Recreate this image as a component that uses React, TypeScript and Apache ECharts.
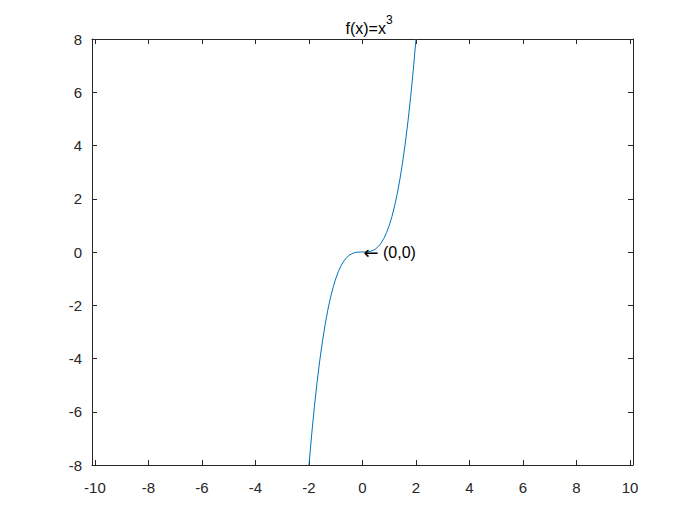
import React, { useEffect, useRef } from "react";
import * as echarts from "echarts";

const xValues = [
  -2, -1.9, -1.8, -1.7, -1.6, -1.5, -1.4, -1.3, -1.2, -1.1, -1, -0.9, -0.8, -0.7, -0.6, -0.5, -0.4, -0.3, -0.2, -0.1,
  0, 0.1, 0.2, 0.3, 0.4, 0.5, 0.6, 0.7, 0.8, 0.9, 1, 1.1, 1.2, 1.3, 1.4, 1.5, 1.6, 1.7, 1.8, 1.9, 2,
];
const yValues = [
  -8, -6.859, -5.832, -4.913, -4.096, -3.375, -2.744, -2.197, -1.728, -1.331, -1, -0.729, -0.512, -0.343, -0.216,
  -0.125, -0.064, -0.027, -0.008, -0.001, 0, 0.001, 0.008, 0.027, 0.064, 0.125, 0.216, 0.343, 0.512, 0.729, 1, 1.331,
  1.728, 2.197, 2.744, 3.375, 4.096, 4.913, 5.832, 6.859, 8,
];
const xTicks = [-10, -8, -6, -4, -2, 0, 2, 4, 6, 8, 10];
const yTicks = [-8, -6, -4, -2, 0, 2, 4, 6, 8];
const titleMain = "f(x)=x";
const titleSup = "3";
const annotationPoint = [0, 0];
const annotationArrow = "\u2190";
const annotationText = "(0,0)";

const FONT = "'Liberation Sans', Arial, Helvetica, sans-serif";
const AX = "#262626";

export default function App() {
  const ref = useRef<HTMLDivElement>(null);
  useEffect(() => {
    if (!ref.current) return;
    const chart = echarts.init(ref.current, null, { renderer: "svg" });
    const data = xValues.map((x, i) => [x, yValues[i]]);
    const xBase = {
      type: "value",
      min: -10.11,
      max: 10.11,
      axisLine: { show: true, onZero: false, lineStyle: { color: AX, width: 1 } },
      splitLine: { show: false },
    };
    const yBase = {
      type: "value",
      min: -8,
      max: 8,
      axisLine: { show: true, onZero: false, lineStyle: { color: AX, width: 1 } },
      splitLine: { show: false },
    };
    chart.setOption({
      animation: false,
      backgroundColor: "#ffffff",
      title: {
        text: `{a|${titleMain}}{b|${titleSup}}`,
        left: 364,
        top: 9,
        textAlign: "center",
        textStyle: {
          fontWeight: "normal",
          rich: {
            a: { fontFamily: FONT, fontSize: 16, fontWeight: "normal", color: "#000", verticalAlign: "bottom", lineHeight: 22 },
            b: {
              fontFamily: FONT,
              fontSize: 12,
              fontWeight: "normal",
              color: "#000",
              verticalAlign: "top",
              lineHeight: 22,
              padding: [0, 0, 6, 0],
            },
          },
        },
      },
      grid: { left: 92, right: 67, top: 39, bottom: 60, containLabel: false },
      xAxis: [
        {
          ...xBase,
          position: "bottom",
          axisTick: { show: true, inside: true, length: 5, customValues: xTicks, lineStyle: { color: AX } },
          axisLabel: {
            show: true,
            customValues: xTicks,
            margin: 15,
            fontFamily: FONT,
            fontSize: 15,
            color: AX,
          },
        },
        {
          ...xBase,
          position: "top",
          axisTick: { show: true, inside: true, length: 5, customValues: xTicks, lineStyle: { color: AX } },
          axisLabel: { show: false },
        },
      ],
      yAxis: [
        {
          ...yBase,
          position: "left",
          axisTick: { show: true, inside: true, length: 5, customValues: yTicks, lineStyle: { color: AX } },
          axisLabel: {
            show: true,
            customValues: yTicks,
            margin: 10,
            padding: [3, 0, 0, 0],
            fontFamily: FONT,
            fontSize: 15,
            color: AX,
          },
        },
        {
          ...yBase,
          position: "right",
          axisTick: { show: true, inside: true, length: 5, customValues: yTicks, lineStyle: { color: AX } },
          axisLabel: { show: false },
        },
      ],
      series: [
        {
          type: "line",
          data,
          showSymbol: false,
          symbol: "none",
          smooth: false,
          clip: true,
          lineStyle: { color: "#0072BD", width: 1 },
          markPoint: {
            symbol: "circle",
            symbolSize: 0,
            data: [
              {
                coord: annotationPoint,
                label: {
                  show: true,
                  position: "right",
                  distance: 1,
                  formatter: `{arr|${annotationArrow}}{txt| ${annotationText}}`,
                  rich: {
                    arr: { fontFamily: "'DejaVu Sans', sans-serif", fontSize: 18, color: "#000" },
                    txt: { fontFamily: FONT, fontSize: 16, color: "#000" },
                  },
                },
              },
            ],
          },
        },
      ],
    });
    return () => chart.dispose();
  }, []);
  return <div ref={ref} style={{ width: 700, height: 525, position: "absolute", left: 0, top: 0 }} />;
}
